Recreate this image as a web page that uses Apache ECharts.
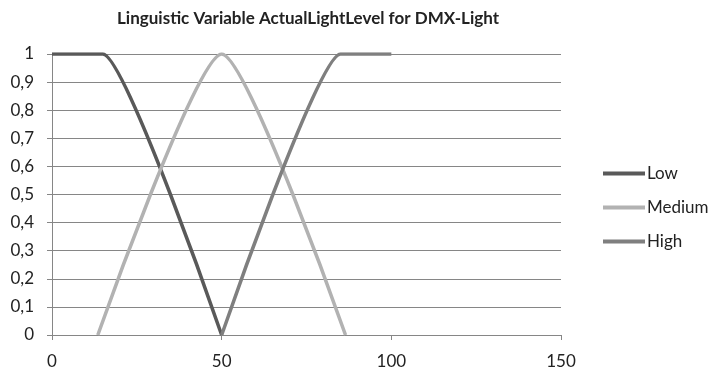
<!DOCTYPE html>
<html>
<head>
    <meta charset="utf-8">
    <title>ActualLightLevel</title>
    <script src="https://cdn.jsdelivr.net/npm/echarts@6/dist/echarts.min.js"></script>
</head>
<body style="margin:0">
<div id="main" style="width: 713px;height:373px;"></div>
<script type="text/javascript">
    // data
    var lowX = [0, 15, 50];
    var lowY = [1, 1, 0];
    var mediumX = [13.5, 50, 86.5];
    var mediumY = [0, 1, 0];
    var highX = [50, 85, 100];
    var highY = [0, 1, 1];
    var xTicks = [0, 50, 100, 150];
    var yTicks = [0, 0.1, 0.2, 0.3, 0.4, 0.5, 0.6, 0.7, 0.8, 0.9, 1];

    function pairs(xs, ys) {
        return xs.map(function (x, i) { return [x, ys[i]]; });
    }

    var font = 'Lato';
    var gridColor = '#868686';

    var myChart = echarts.init(document.getElementById('main'));

    var option = {
        animation: false,
        title: {
            text: 'Linguistic Variable ActualLightLevel for DMX-Light',
            left: 303,
            textAlign: 'center',
            top: 5,
            textStyle: {fontFamily: font, fontWeight: 'bold', fontSize: 17, color: '#222'}
        },
        legend: {
            orient: 'vertical',
            left: 598,
            top: 160,
            itemWidth: 42,
            itemHeight: 4,
            itemGap: 17,
            icon: 'rect',
            textStyle: {fontFamily: font, fontSize: 17, lineHeight: 17, color: '#222', padding: [0, 0, 0, -3]},
            data: ['Low', 'Medium', 'High']
        },
        grid: {left: 52, right: 152, top: 54, bottom: 38},
        xAxis: {
            type: 'value',
            min: xTicks[0],
            max: xTicks[xTicks.length - 1],
            interval: 50,
            splitLine: {show: false},
            axisLine: {show: true, lineStyle: {color: gridColor}},
            axisTick: {show: true, length: 5, lineStyle: {color: gridColor}},
            axisLabel: {margin: 18, fontFamily: font, fontSize: 17, color: '#222'}
        },
        yAxis: {
            type: 'value',
            min: yTicks[0],
            max: yTicks[yTicks.length - 1],
            interval: 0.1,
            splitLine: {show: true, lineStyle: {color: gridColor}},
            axisLine: {show: true, lineStyle: {color: gridColor}},
            axisTick: {show: true, length: 5, lineStyle: {color: gridColor}},
            axisLabel: {
                margin: 18, fontFamily: font, fontSize: 17, color: '#222',
                formatter: function (v) { return String(Math.round(v * 10) / 10).replace('.', ','); }
            }
        },
        series: [
            {
                name: 'Low', type: 'line', data: pairs(lowX, lowY),
                smooth: 0.15, showSymbol: false,
                lineStyle: {width: 3.5, color: '#595959'}, itemStyle: {color: '#595959'}
            },
            {
                name: 'Medium', type: 'line', data: pairs(mediumX, mediumY),
                smooth: 0.2, showSymbol: false,
                lineStyle: {width: 3.5, color: '#b2b2b2'}, itemStyle: {color: '#b2b2b2'}
            },
            {
                name: 'High', type: 'line', data: pairs(highX, highY),
                smooth: 0.15, showSymbol: false,
                lineStyle: {width: 3.5, color: '#7f7f7f'}, itemStyle: {color: '#7f7f7f'}
            }
        ]
    };
    myChart.setOption(option);
</script>
</body>
</html>
